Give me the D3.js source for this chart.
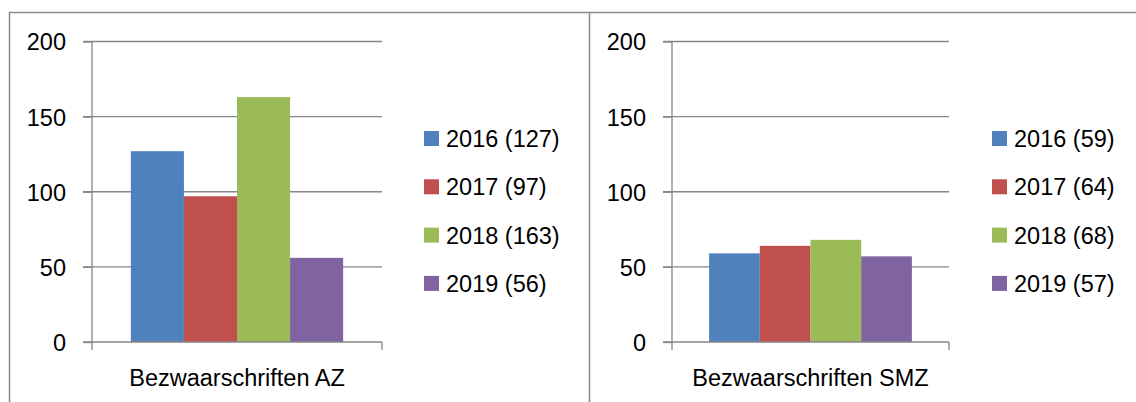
<!DOCTYPE html>
<html>
<head>
<meta charset="utf-8">
<script src="https://cdn.jsdelivr.net/npm/d3@7"></script>
<style>
  body { margin: 0; background: #fff; }
  svg { display: block; font-family: "Liberation Sans", Arial, sans-serif; }
</style>
</head>
<body>
<svg id="chart" width="1136" height="402"></svg>
<script>
// data
const years = ["2016", "2017", "2018", "2019"];
const colors = ["#4F81BD", "#C0504D", "#9BBB59", "#8064A2"];
const yTicks = [0, 50, 100, 150, 200];
const categoryAZ = "Bezwaarschriften AZ";
const valuesAZ = [127, 97, 163, 56];
const categorySMZ = "Bezwaarschriften SMZ";
const valuesSMZ = [59, 64, 68, 57];

const svg = d3.select("#chart");
const gridColor = "#868686";
const fontSize = 23.5;

// panel borders
svg.append("path")
    .attr("d", "M9.5,402V12.5H1136M589.5,12.5V402")
    .attr("fill", "none")
    .attr("stroke", "#8c8c8c")
    .attr("stroke-width", 1.5);

function drawChart(opts) {
    const {left, right, top, bottom, category, values, legendX} = opts;
    const g = svg.append("g");

    const y = d3.scaleLinear().domain([0, 200]).range([bottom, top]);
    const x0 = d3.scaleBand().domain([category]).range([left, right])
        .paddingInner(0).paddingOuter(0.183);
    const x1 = d3.scaleBand().domain(years).range([0, x0.bandwidth()]);

    // gridlines + left ticks
    g.append("g").selectAll("line")
        .data(yTicks.filter(d => d > 0))
        .join("line")
        .attr("x1", left - 9).attr("x2", right)
        .attr("y1", d => y(d)).attr("y2", d => y(d))
        .attr("stroke", gridColor).attr("stroke-width", 1.3);

    // bars
    g.append("g").selectAll("rect")
        .data(values.map((v, i) => ({year: years[i], value: v, color: colors[i]})))
        .join("rect")
        .attr("x", d => x0(category) + x1(d.year))
        .attr("width", x1.bandwidth())
        .attr("y", d => y(d.value))
        .attr("height", d => y(0) - y(d.value))
        .attr("fill", d => d.color);

    // y axis
    const yAxis = g.append("g")
        .attr("transform", `translate(${left},0)`)
        .call(d3.axisLeft(y).tickValues(yTicks).tickSize(9).tickPadding(17).tickFormat(d3.format("d")));
    yAxis.select(".domain").remove();
    yAxis.selectAll(".tick line").attr("stroke", gridColor).attr("stroke-width", 1.3);
    yAxis.selectAll(".tick text")
        .attr("font-size", fontSize).attr("font-family", null).attr("fill", "#000").attr("dy", "0.36em");
    g.append("line")
        .attr("x1", left).attr("x2", left).attr("y1", y(200)).attr("y2", y(0) + 8)
        .attr("stroke", gridColor).attr("stroke-width", 1.3);

    // x axis
    g.append("line")
        .attr("x1", left - 9).attr("x2", right).attr("y1", y(0)).attr("y2", y(0))
        .attr("stroke", gridColor).attr("stroke-width", 1.3);
    g.append("line")
        .attr("x1", right).attr("x2", right).attr("y1", y(0)).attr("y2", y(0) + 8)
        .attr("stroke", gridColor).attr("stroke-width", 1.3);
    g.append("text")
        .attr("x", x0(category) + x0.bandwidth() / 2)
        .attr("y", y(0) + 44)
        .attr("text-anchor", "middle")
        .attr("font-size", fontSize)
        .text(category);

    // legend
    const legend = g.append("g").selectAll("g")
        .data(years)
        .join("g")
        .attr("transform", (d, i) => `translate(${legendX},${131 + i * 48.3})`);
    legend.append("rect")
        .attr("width", 15).attr("height", 15)
        .attr("fill", (d, i) => colors[i]);
    legend.append("text")
        .attr("x", 22).attr("y", 7.5).attr("dy", "0.36em")
        .attr("font-size", fontSize)
        .text((d, i) => `${d} (${values[i]})`);
}

drawChart({left: 92, right: 382, top: 41.5, bottom: 342,
           category: categoryAZ, values: valuesAZ, legendX: 424});
drawChart({left: 672, right: 949, top: 41.5, bottom: 342,
           category: categorySMZ, values: valuesSMZ, legendX: 992});
</script>
</body>
</html>
